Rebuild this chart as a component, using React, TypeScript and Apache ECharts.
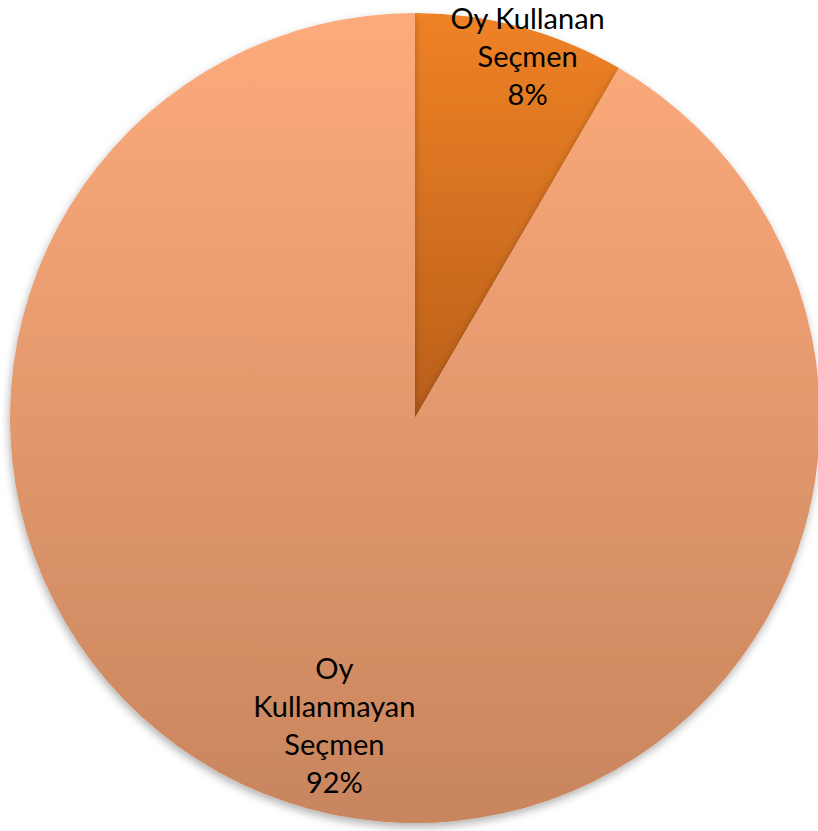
import React, { useEffect, useRef } from "react";
import * as echarts from "echarts";

const categories = ["Oy Kullanan Seçmen", "Oy Kullanmayan Seçmen"];
const labelNames = ["Oy Kullanan\nSeçmen", "Oy\nKullanmayan\nSeçmen"];
const values = [8.4, 91.6];
const topColors = ["#EF8226", "#FDAB7B"];
const bottomColors = ["#B95F1B", "#C8855E"];
const labelOffsets = [
  [59, -164],
  [-27, 108],
];

export default function App() {
  const ref = useRef<HTMLDivElement>(null);
  useEffect(() => {
    const chart = echarts.init(ref.current!, null, { renderer: "svg" });
    chart.setOption({
      animation: false,
      backgroundColor: "#ffffff",
      series: [
        {
          type: "pie",
          center: [415, 418],
          radius: 405,
          startAngle: 90,
          clockwise: true,
          silent: true,
          data: categories.map((c, i) => ({
            name: c,
            value: values[i],
            itemStyle: {
              color: new echarts.graphic.LinearGradient(0, 0, 0, 1, [
                { offset: 0, color: topColors[i] },
                { offset: 1, color: bottomColors[i] },
              ]),
            },
          })),
          itemStyle: {
            borderWidth: 0,
            shadowBlur: 8,
            shadowOffsetX: -1,
            shadowOffsetY: 4,
            shadowColor: "rgba(0,0,0,0.3)",
          },
          label: {
            show: true,
            position: "inside",
            formatter: (p: any) =>
              labelNames[p.dataIndex] + "\n" + Math.round(p.percent) + "%",
            color: "#000000",
            fontFamily: "Lato",
            fontSize: 29,
            lineHeight: 38,
            align: "center",
          },
          labelLayout: (p: any) => ({
            dx: labelOffsets[p.dataIndex][0],
            dy: labelOffsets[p.dataIndex][1],
          }),
          labelLine: { show: false },
        },
      ],
    });
    return () => chart.dispose();
  }, []);
  return (
    <div
      ref={ref}
      style={{ position: "fixed", left: 0, top: 0, width: 818, height: 831 }}
    />
  );
}
